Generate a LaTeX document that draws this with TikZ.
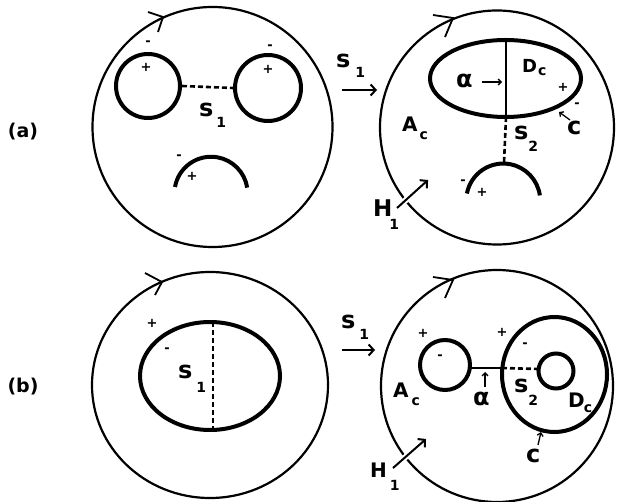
\documentclass[tikz,border=0pt]{standalone}
\usepackage{fontspec}
\setmainfont{DejaVu Sans}
\usetikzlibrary{arrows.meta,shapes.geometric}
\newcommand\capsz{\fontsize{20}{20}\selectfont}
\newcommand\lowsz{\fontsize{24}{24}\selectfont}
\newcommand\subsz{\fontsize{14}{14}\selectfont}
\newcommand\lsub[4]{#1\kern#2\raisebox{#3}{\subsz #4}}

\begin{document}
\begin{tikzpicture}[x=1pt, y=-1pt,
  outer/.style={line width=2.2pt},
  loopc/.style={line width=4pt},
  thinline/.style={line width=2pt},
  cutline/.style={line width=2.6pt, dash pattern=on 5pt off 3pt},
  chev/.style={line width=1.8pt, line join=miter},
  pointer/.style={-{Straight Barb[length=5pt,width=11pt]}, line width=2pt},
  crossing/.style={pointer, preaction={draw=white, arrows=-, line width=6pt, shorten >=10pt}},
  tick/.style={-{Straight Barb[length=3pt,width=6pt]}, line width=1.3pt},
  lab/.style={inner sep=0pt, anchor=base west, font=\bfseries},
  sgn/.style={inner sep=0pt, font=\bfseries\fontsize{13}{13}\selectfont},
  tag/.style={inner sep=0pt, font=\bfseries\fontsize{19}{19}\selectfont}
]
  \useasboundingbox (0,0) rectangle (618,502);

  % row (a), left
  \node[tag] (taga) at (23,132) {(a)};
  \draw[outer] (212.5,127) circle (120);
  \draw[chev] (148,12) -- (163,17) -- (158,32);
  \node[draw, loopc, circle, minimum size=64pt, inner sep=0pt] (la) at (148,86) {};
  \node[draw, loopc, circle, minimum size=66pt, inner sep=0pt] (ra) at (268,88) {};
  \draw[cutline] (la.east) -- (ra.west);
  \draw[loopc] (175,187) arc (190:351:36.6);
  \node[lab] (s1a) at (199,117) {\lsub{\lowsz s}{3pt}{-11pt}{1}};
  \node[sgn] (m1) at (148,43) {-};
  \node[sgn] (p1) at (146,67) {+};
  \node[sgn] (m2) at (270,47) {-};
  \node[sgn] (p2) at (268,69) {+};
  \node[sgn] (m3) at (179,157) {-};
  \node[sgn] (p3) at (192,176) {+};

  % row (a), arrow
  \node[lab] (s1ta) at (336,68) {\lsub{\lowsz s}{5pt}{-10pt}{1}};
  \coordinate (ta0) at (342,90);
  \coordinate (ta1) at (377,90);
  \draw[pointer] (ta0) -- (ta1);

  % row (a), right
  \draw[outer] (497,127.5) circle (117);
  \draw[chev] (433,15) -- (453,18) -- (445,37);
  \draw[loopc] (505.5,78.5) ellipse (75.5 and 38.5);
  \coordinate (ua) at (506,40);
  \coordinate (ub) at (506,117);
  \coordinate (uc) at (504,163);
  \draw[thinline] (ua) -- (ub);
  \draw[cutline] (ub) -- (uc);
  \draw[loopc] (466.9,193.5) arc (191:352:37);
  \node[lab] (alpa) at (456,88) {\fontsize{24}{24}\selectfont α};
  \coordinate (aa0) at (482,82);
  \coordinate (aa1) at (502,82);
  \draw[tick] (aa0) -- (aa1);
  \node[lab] (dca) at (522,73) {\lsub{\fontsize{18}{18}\selectfont D}{1pt}{-3pt}{c}};
  \node[lab] (aca) at (402,132) {\lsub{\capsz A}{2pt}{-8pt}{c}};
  \node[lab] (s2a) at (514,140) {\lsub{\lowsz s}{0pt}{-12pt}{2}};
  \node[lab] (ca) at (567,135) {\lowsz c};
  \coordinate (ca0) at (570,120);
  \coordinate (ca1) at (559,112);
  \draw[tick] (ca0) -- (ca1);
  \node[sgn] (p4) at (563,87) {+};
  \node[sgn] (m4) at (577,105) {-};
  \node[sgn] (m5) at (463,182) {-};
  \node[sgn] (p5) at (482,192) {+};
  \node[lab] (h1a) at (373,217) {\lsub{\fontsize{23}{23}\selectfont H}{-3pt}{-13pt}{1}};
  \coordinate (ha0) at (397,208);
  \coordinate (ha1) at (428,180);
  \draw[crossing] (ha0) -- (ha1);

  % row (b), left
  \node[tag] (tagb) at (23,387) {(b)};
  \draw[outer] (210,385) ellipse (118 and 113);
  \draw[chev] (145,273) -- (162,282) -- (155,295);
  \draw[loopc] (210,376) ellipse (70 and 54);
  \coordinate (va) at (213,322);
  \coordinate (vb) at (213,430);
  \draw[cutline] (va) -- (vb);
  \node[lab] (s1b) at (178,378) {\lsub{\lowsz s}{4pt}{-14pt}{1}};
  \node[sgn] (p6) at (152,323) {+};
  \node[sgn] (m6) at (167,350) {-};

  % row (b), arrow
  \node[lab] (s1tb) at (341,328) {\lsub{\lowsz s}{4pt}{-12pt}{1}};
  \coordinate (tb0) at (342,350);
  \coordinate (tb1) at (375,350);
  \draw[pointer] (tb0) -- (tb1);

  % row (b), right
  \draw[outer] (497,386) circle (116);
  \draw[chev] (433,277) -- (453,280) -- (445,298);
  \node[draw, loopc, circle, minimum size=50pt, inner sep=0pt] (lb) at (445,365) {};
  \node[draw, loopc, ellipse, minimum width=105pt, minimum height=115pt, inner sep=0pt] (db) at (554.5,374.5) {};
  \node[draw, loopc, circle, minimum size=35pt, inner sep=0pt] (ib) at (556,371) {};
  \coordinate (wa) at (469,368);
  \coordinate (wb) at (502,368);
  \coordinate (wc) at (538,369);
  \draw[thinline] (wa) -- (wb);
  \draw[cutline] (wb) -- (wc);
  \node[lab] (acb) at (393,397) {\lsub{\capsz A}{3pt}{-8pt}{c}};
  \node[lab] (alpb) at (473,405) {\fontsize{24}{24}\selectfont α};
  \coordinate (ab0) at (485,387);
  \coordinate (ab1) at (485,372);
  \draw[tick] (ab0) -- (ab1);
  \node[lab] (s2b) at (514,392) {\lsub{\lowsz s}{0pt}{-13pt}{2}};
  \node[lab] (dcb) at (568,407) {\lsub{\capsz D}{-1pt}{-5pt}{c}};
  \node[lab] (cb) at (526,462) {\lowsz c};
  \coordinate (cb0) at (538,445);
  \coordinate (cb1) at (541,432);
  \draw[tick] (cb0) -- (cb1);
  \node[sgn] (p7) at (423,333) {+};
  \node[sgn] (m7) at (440,357) {-};
  \node[sgn] (p8) at (502,332) {+};
  \node[sgn] (m8) at (525,345) {-};
  \node[lab] (h1b) at (370,477) {\lsub{\capsz H}{3pt}{-13pt}{1}};
  \coordinate (hb0) at (393,468);
  \coordinate (hb1) at (426,439);
  \draw[crossing] (hb0) -- (hb1);
\end{tikzpicture}
\end{document}
